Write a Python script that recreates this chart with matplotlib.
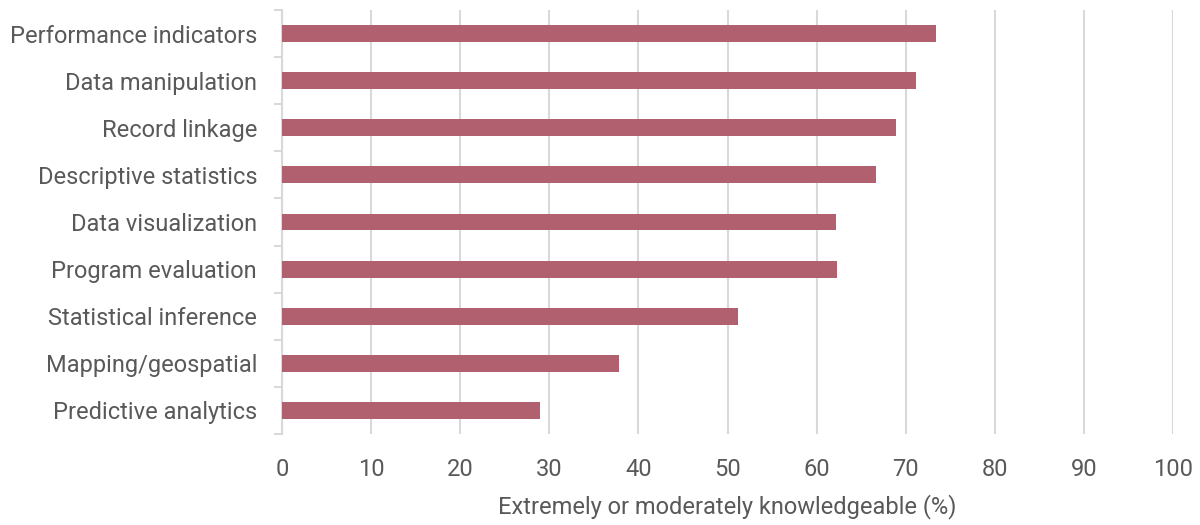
import matplotlib.pyplot as plt
import numpy as np

categories = [
    "Performance indicators",
    "Data manipulation",
    "Record linkage",
    "Descriptive statistics",
    "Data visualization",
    "Program evaluation",
    "Statistical inference",
    "Mapping/geospatial",
    "Predictive analytics",
]
values = [73.4, 71.1, 68.9, 66.7, 62.2, 62.3, 51.2, 37.8, 29.0]
xticks = [0, 10, 20, 30, 40, 50, 60, 70, 80, 90, 100]

plt.rcParams["font.family"] = ["Roboto", "DejaVu Sans"]
text_color = "#595959"
grid_color = "#d9d9d9"
fs = 17

fig = plt.figure(figsize=(12, 5.25), dpi=100)
ax = fig.add_axes([282 / 1200, 1 - 434 / 525, (1173 - 282) / 1200, (434 - 10) / 525])

y = np.arange(len(categories))
ax.barh(y, values, height=0.36, color="#b0606f", zorder=3)

ax.set_xlim(0, 100)
ax.set_ylim(len(categories) - 0.5, -0.5)
ax.set_xticks(xticks)
ax.set_xticklabels([str(t) for t in xticks])
ax.set_yticks(y)
ax.set_yticklabels(categories)
ax.set_yticks(np.arange(-0.5, len(categories)), minor=True)

ax.grid(axis="x", color=grid_color, linewidth=1.5, zorder=0)
ax.tick_params(axis="x", length=0, pad=17, labelsize=fs, labelcolor=text_color)
ax.tick_params(axis="y", which="major", length=0, pad=18, labelsize=fs, labelcolor=text_color)
ax.tick_params(axis="y", which="minor", length=6, width=1.5, color=grid_color)

for s in ["top", "right", "bottom"]:
    ax.spines[s].set_visible(False)
ax.spines["left"].set_color(grid_color)
ax.spines["left"].set_linewidth(1.5)

ax.set_xlabel("Extremely or moderately knowledgeable (%)", fontsize=fs, color=text_color, labelpad=10)

fig.savefig("out.png", dpi=100)
